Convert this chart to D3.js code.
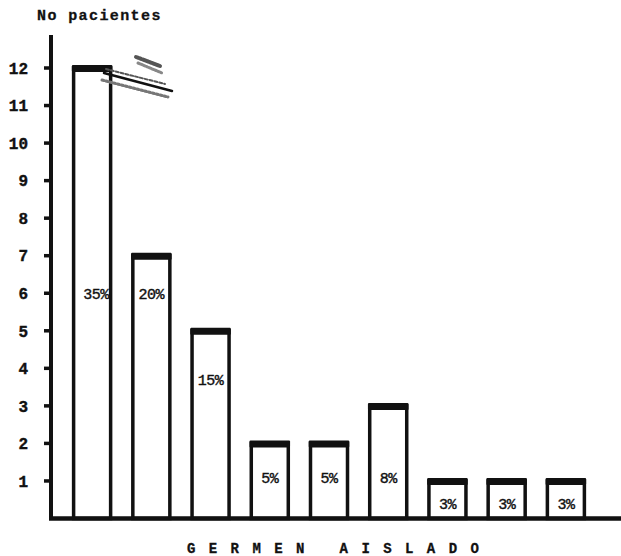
<!DOCTYPE html>
<html>
<head>
<meta charset="utf-8">
<script src="https://cdn.jsdelivr.net/npm/d3@7"></script>
<style>
  body { margin: 0; background: #fff; }
  svg { display: block; }
  text { font-family: "Liberation Mono", "DejaVu Sans Mono", monospace; fill: #111; }
</style>
</head>
<body>
<div id="chart"></div>
<script>
// data
const germenes = ["g1", "g2", "g3", "g4", "g5", "g6", "g7", "g8", "g9"];
const pacientes = [12, 7, 5, 2, 2, 3, 1, 1, 1];
const porcentajes = ["35%", "20%", "15%", "5%", "5%", "8%", "3%", "3%", "3%"];
const nivelEtiqueta = [6, 6, 3.7, 1.1, 1.1, 1.1, 0.4, 0.4, 0.4];
const yTicks = [1, 2, 3, 4, 5, 6, 7, 8, 9, 10, 11, 12];

const width = 621;
const height = 556;
const ink = "#111";

const svg = d3.select("#chart")
    .append("svg")
    .attr("width", width)
    .attr("height", height);

const x = d3.scaleBand()
    .domain(germenes)
    .range([44, 614])
    .paddingInner(0.375)
    .paddingOuter(0.5);

const y = d3.scaleLinear()
    .domain([0, 12])
    .range([518.5, 68]);

// y axis line + ticks
svg.append("line")
    .attr("x1", 51).attr("x2", 51)
    .attr("y1", 35).attr("y2", 520)
    .attr("stroke", ink)
    .attr("stroke-width", 4);

svg.selectAll(".tick")
    .data(yTicks)
    .enter()
    .append("line")
    .attr("x1", 44).attr("x2", 51)
    .attr("y1", d => y(d)).attr("y2", d => y(d))
    .attr("stroke", ink)
    .attr("stroke-width", 3.5);

svg.selectAll(".ytl")
    .data(yTicks)
    .enter()
    .append("text")
    .attr("x", 28)
    .attr("y", d => y(d))
    .attr("dy", "0.36em")
    .attr("text-anchor", "end")
    .attr("font-size", 16)
    .attr("font-weight", "bold")
    .attr("stroke", ink)
    .attr("stroke-width", 0.4)
    .text(d => d);

// bars
const bars = svg.selectAll(".bar")
    .data(germenes)
    .enter()
    .append("g");

bars.append("rect")
    .attr("x", d => x(d))
    .attr("y", (d, i) => y(pacientes[i]))
    .attr("width", x.bandwidth())
    .attr("height", (d, i) => y(0) - y(pacientes[i]))
    .attr("fill", "none")
    .attr("stroke", ink)
    .attr("stroke-width", 3.5);

// heavy top edge of every bar
bars.append("rect")
    .attr("x", d => x(d) - 1.75)
    .attr("y", (d, i) => y(pacientes[i]) - 3)
    .attr("width", x.bandwidth() + 3.5)
    .attr("height", 7)
    .attr("rx", 1)
    .attr("fill", ink);

bars.append("text")
    .attr("x", (d, i) => x(d) + x.bandwidth() / 2 + (i === 0 ? 4 : 0))
    .attr("y", (d, i) => y(nivelEtiqueta[i]))
    .attr("dy", "0.36em")
    .attr("text-anchor", "middle")
    .attr("font-size", 15)
    .attr("font-family", "'DejaVu Sans Mono', monospace")
    .attr("letter-spacing", -0.5)
    .attr("stroke", ink)
    .attr("stroke-width", 0.4)
    .text((d, i) => porcentajes[i]);

// baseline
svg.append("line")
    .attr("x1", 49).attr("x2", width)
    .attr("y1", y(0)).attr("y2", y(0))
    .attr("stroke", ink)
    .attr("stroke-width", 4.5);

// scribbled strike next to the first bar
const scribble = svg.append("g").attr("stroke-linecap", "round");
scribble.append("line")
    .attr("x1", 104).attr("y1", 73).attr("x2", 172).attr("y2", 91)
    .attr("stroke", ink).attr("stroke-width", 2.5);
scribble.append("line")
    .attr("x1", 106).attr("y1", 69).attr("x2", 165).attr("y2", 84)
    .attr("stroke", "#555").attr("stroke-width", 2)
    .attr("stroke-dasharray", "3,2");
scribble.append("line")
    .attr("x1", 102).attr("y1", 80).attr("x2", 168).attr("y2", 97)
    .attr("stroke", "#777").attr("stroke-width", 3)
    .attr("stroke-dasharray", "2,2");
scribble.append("line")
    .attr("x1", 136).attr("y1", 57).attr("x2", 160).attr("y2", 66)
    .attr("stroke", "#555").attr("stroke-width", 4)
    .attr("stroke-dasharray", "2,1.5");
scribble.append("line")
    .attr("x1", 138).attr("y1", 63).attr("x2", 162).attr("y2", 73)
    .attr("stroke", "#888").attr("stroke-width", 3)
    .attr("stroke-dasharray", "1.5,1.5");

// titles
svg.append("text")
    .attr("x", 37)
    .attr("y", 20)
    .attr("font-size", 15)
    .attr("font-weight", "bold")
    .attr("letter-spacing", 1.4)
    .attr("stroke", ink)
    .attr("stroke-width", 0.3)
    .text("No pacientes");

svg.append("text")
    .attr("x", 187)
    .attr("y", 553)
    .attr("font-size", 14)
    .attr("font-weight", "bold")
    .attr("letter-spacing", 2.5)
    .attr("stroke", ink)
    .attr("stroke-width", 0.3)
    .attr("xml:space", "preserve")
    .style("white-space", "pre")
    .text("G E R M E N   A I S L A D O");
</script>
</body>
</html>
